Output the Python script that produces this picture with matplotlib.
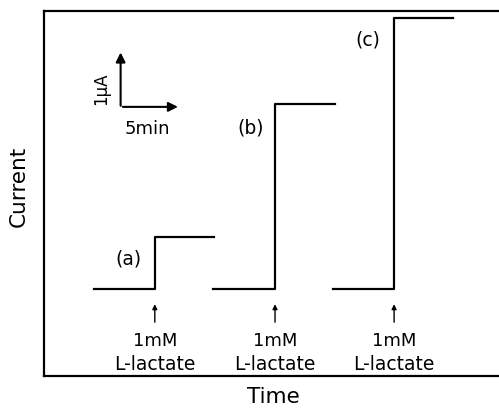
import matplotlib
matplotlib.use("Agg")
import matplotlib.pyplot as plt

plt.rcParams['font.family'] = ['DejaVu Sans']

# time in min, current in uA (relative to baseline)
labels = ['(a)', '(b)', '(c)']
t_start = [4.2, 14.3, 24.5]
t_add = [9.4, 19.6, 29.7]
t_end = [14.4, 24.7, 34.7]
steps = [0.93, 3.30, 4.84]
label_pos = [(7.2, 0.55), (17.5, 2.89), (27.5, 4.46)]

fig = plt.figure(figsize=(4.99, 4.10), dpi=100)
ax = fig.add_axes([44 / 499, 33 / 410, 455 / 499, 365 / 410])
ax.set_xlim(0, 38.6)
ax.set_ylim(-1.55, 4.96)

for lab, t0, t1, t2, h, lp in zip(labels, t_start, t_add, t_end, steps, label_pos):
    ax.plot([t0, t1, t1, t2], [0, 0, h, h], color='black', lw=1.6)
    ax.text(lp[0], lp[1], lab, ha='center', va='center', fontsize=13.5)
    ax.annotate('', xy=(t1, -0.22), xytext=(t1, -0.64),
                arrowprops=dict(arrowstyle='-|>', color='black', lw=1.0,
                                mutation_scale=7))
    ax.text(t1, -0.91, '1mM', ha='center', va='center', fontsize=13)
    ax.text(t1, -1.33, 'L-lactate', ha='center', va='center', fontsize=13.5)

# scale bar
ax.annotate('', xy=(6.5, 4.27), xytext=(6.5, 3.22),
            arrowprops=dict(arrowstyle='-|>', color='black', lw=1.5,
                            mutation_scale=14))
ax.annotate('', xy=(11.6, 3.25), xytext=(6.45, 3.25),
            arrowprops=dict(arrowstyle='-|>', color='black', lw=1.5,
                            mutation_scale=14))
ax.text(4.85, 3.59, '1μA', ha='center', va='center', rotation=90, fontsize=12)
ax.text(8.8, 2.88, '5min', ha='center', va='center', fontsize=13)

ax.spines['right'].set_visible(False)
for s in ['left', 'top', 'bottom']:
    ax.spines[s].set_linewidth(1.6)
ax.set_xticks([])
ax.set_yticks([])
ax.text(0.505, -0.055, 'Time', transform=ax.transAxes, ha='center',
        va='center', fontsize=15.5)
ax.text(-0.056, 0.523, 'Current', transform=ax.transAxes, ha='center',
        va='center', rotation=90, fontsize=15.5)

fig.savefig('out.png', dpi=100)
